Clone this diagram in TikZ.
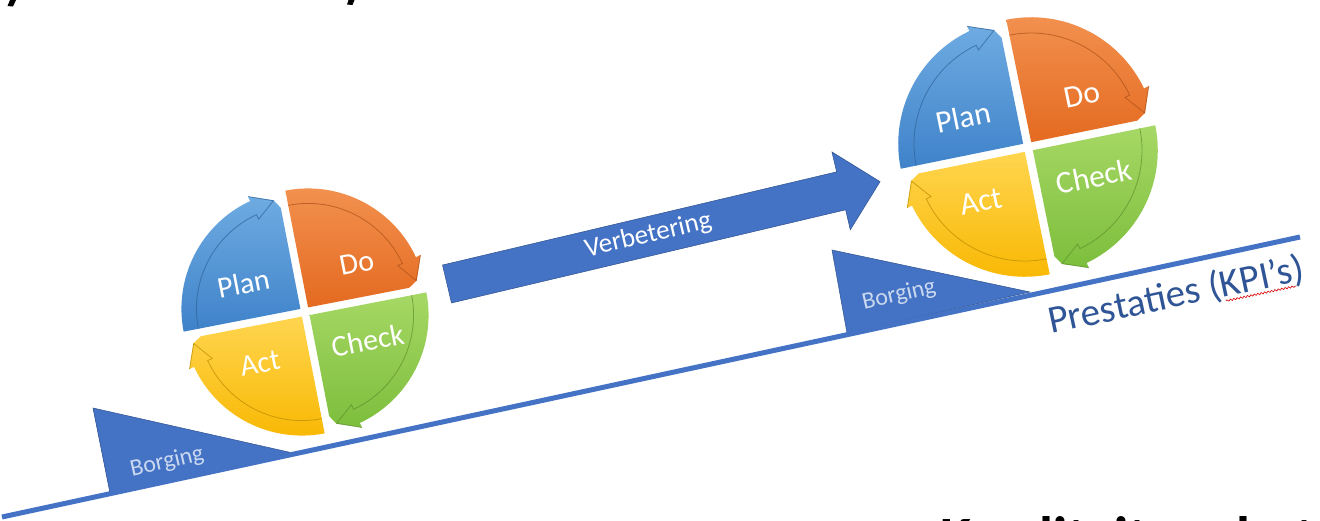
\documentclass[tikz,border=0pt]{standalone}
\usepackage{fontspec}
\setmainfont{Carlito}
\usetikzlibrary{decorations.pathmorphing}

\definecolor{kblue}{HTML}{4472C4}
\definecolor{kbluedark}{HTML}{2F528F}
\definecolor{ktext}{HTML}{2F5597}
\definecolor{klight}{HTML}{CAD8F0}
\definecolor{planA}{HTML}{6EABE2}\definecolor{planB}{HTML}{3F82C9}
\definecolor{doA}{HTML}{F39352}\definecolor{doB}{HTML}{E46A20}
\definecolor{chkA}{HTML}{A6D865}\definecolor{chkB}{HTML}{7DBE3C}
\definecolor{actA}{HTML}{FFD54F}\definecolor{actB}{HTML}{F8B700}

\tikzset{
  wedgelabel/.style={text=white, font=\fontsize{30}{34}\selectfont, inner sep=0pt},
  borgtext/.style={text=klight, font=\fontsize{24}{28}\selectfont, inner sep=0pt},
  shelf/.style={fill=kblue, draw=kbluedark, line width=0.5pt},
}

% one quarter of a PDCA wheel: #1 start angle, #2 end angle (arrow end),
% #3/#4 light/dark fill colour
\newcommand\pdcaquad[4]{%
  \begin{scope}[shift={({(#1+#2)/2}:5.5)}]
    \path[top color=#3, bottom color=#4]
      (0,0) -- (#1:\Rw) arc[start angle=#1, end angle=#2+14, radius=\Rw]
      -- (#2+14:\Rw+5) -- (#2+3:\Rw-7) -- (#2:\Rw-16) -- cycle;
    \draw[#4!75!black, line width=0.8pt, opacity=0.7]
      (#1:\Rw-15) arc[start angle=#1, end angle=#2+14, radius=\Rw-15]
      -- (#2+14:\Rw-20) -- (#2+3:\Rw-7.5) -- (#2+14:\Rw+5);
  \end{scope}}

% complete wheel with its four labels; #1 = name prefix
\newcommand\pdcawheel[1]{%
  \pdcaquad{180}{90}{planA}{planB}
  \pdcaquad{90}{0}{doA}{doB}
  \pdcaquad{0}{-90}{chkA}{chkB}
  \pdcaquad{-90}{-180}{actA}{actB}
  \node[wedgelabel] (#1plan)  at (-55,40)  {Plan};
  \node[wedgelabel] (#1do)    at (60,38)   {Do};
  \node[wedgelabel] (#1check) at (56,-40)  {Check};
  \node[wedgelabel] (#1act)   at (-54,-42) {Act};}

\def\Rw{119}

\begin{document}
\begin{tikzpicture}[x=1pt, y=1pt]
  \useasboundingbox (0,0) rectangle (1320,-520);
  \clip (0,0) rectangle (1320,-520);
  \fill[white] (0,0) rectangle (1320,-520);

  % descender tips of the heading above
  \fill[black] (10,0) -- (16,0) -- (13,-6.5) -- (7.5,-6) -- cycle;
  \fill[black] (348.5,0) -- (354.5,0) -- (352.5,-5) -- (347,-4.5) -- cycle;

  % performance line
  \coordinate (lineL) at (2,-517);
  \coordinate (lineR) at (1300,-237);

  % wedges that hold the wheels in place
  \path[shelf] (93,-408) -- (293,-453) -- (110,-493) -- cycle;
  \path[shelf] (832,-250) -- (1030,-292) -- (847,-333) -- cycle;
  \node[borgtext, rotate=13] (borg1) at (167,-462) {Borging};
  \node[borgtext, rotate=13] (borg2) at (899,-295) {Borging};

  \draw[kblue, line width=5pt] (lineL) -- (lineR);

  % improvement arrow
  \begin{scope}[shift={(447,-284)}, rotate=13.3, transform shape]
    \path[fill=kblue, draw=kbluedark, line width=0.5pt]
      (0,-19.5) -- (405,-19.5) -- (405,-40) -- (445,0) -- (405,40)
      -- (405,19.5) -- (0,19.5) -- cycle;
    \node[text=white, font=\fontsize{27}{30}\selectfont, inner sep=0pt]
      (verb) at (207,1) {Verbetering};
  \end{scope}

  % PDCA wheels
  \begin{scope}[shift={(305,-312)}, rotate=11, transform shape]
    \pdcawheel{a}
  \end{scope}
  \begin{scope}[shift={(1028,-147)}, rotate=11.5, scale=1.05, transform shape]
    \pdcawheel{b}
  \end{scope}

  % axis label, with the spell-check squiggle under the abbreviation
  \begin{scope}[shift={(1051,-334)}, rotate=12, transform shape]
    \node[text=ktext, font=\fontsize{39}{44}\selectfont, inner sep=0pt,
          anchor=base west] (kpi) at (0,0) {Prestaties (KPI’s)};
    \draw[red!85!black, line width=0.6pt, decorate,
          decoration={snake, amplitude=0.9pt, segment length=3.5pt}]
      (178,-4) -- (250,-4);
  \end{scope}

  % heading at the foot
  \node[anchor=base west, font=\bfseries\fontsize{57}{62}\selectfont, inner sep=0pt]
    (kws) at (940,-556) {Kwaliteit verbeteren};
\end{tikzpicture}
\end{document}
